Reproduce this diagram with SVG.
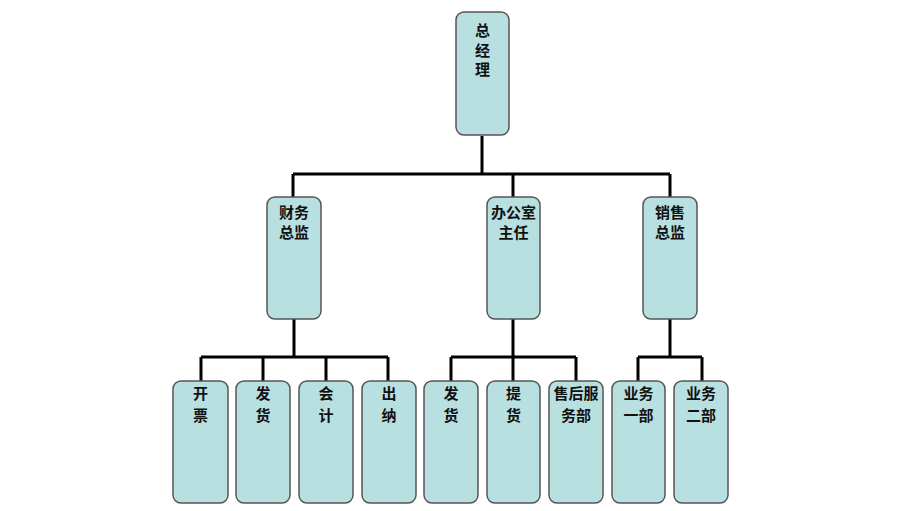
<svg xmlns="http://www.w3.org/2000/svg" width="900" height="511" viewBox="0 0 900 511">
<style>
.box{fill:#b9e0e1;stroke:#555;stroke-width:1.5}
.t{font-family:"Noto Sans CJK SC","Liberation Sans",sans-serif;font-size:15px;font-weight:bold;fill:#111;text-anchor:middle}
.c{fill:none;stroke:#000;stroke-width:3}
</style>
<rect width="900" height="511" fill="#fff"/>
<g id="connectors">
<path class="c" d="M482 136V174M293 174H670M293 174V197M513 174V197M670 174V197"/>
<path class="c" d="M294 319V357M201 357H388M201 357V381M263 357V381M326 357V381M388 357V381"/>
<path class="c" d="M513 319V357M451 357H576M451 357V381M513 357V381M576 357V381"/>
<path class="c" d="M670 319V357M638 357H702M638 357V381M702 357V381"/>
</g>
<g id="n0"><rect class="box" x="456" y="12" width="53" height="123" rx="8"/><text class="t" x="482.5" y="36">总</text><text class="t" x="482.5" y="56">经</text><text class="t" x="482.5" y="75">理</text></g>
<g id="n1"><rect class="box" x="267" y="197" width="54" height="122" rx="8"/><text class="t" x="294" y="218">财务</text><text class="t" x="294" y="238">总监</text></g>
<g id="n2"><rect class="box" x="487" y="197" width="53" height="122" rx="8"/><text class="t" x="513.5" y="218">办公室</text><text class="t" x="513.5" y="238">主任</text></g>
<g id="n3"><rect class="box" x="643" y="197" width="54" height="122" rx="8"/><text class="t" x="670" y="218">销售</text><text class="t" x="670" y="238">总监</text></g>
<g id="n4"><rect class="box" x="173" y="381" width="55" height="122" rx="8"/><text class="t" x="200.5" y="399">开</text><text class="t" x="200.5" y="421">票</text></g>
<g id="n5"><rect class="box" x="236" y="381" width="54" height="122" rx="8"/><text class="t" x="263" y="399">发</text><text class="t" x="263" y="421">货</text></g>
<g id="n6"><rect class="box" x="299" y="381" width="54" height="122" rx="8"/><text class="t" x="326" y="399">会</text><text class="t" x="326" y="421">计</text></g>
<g id="n7"><rect class="box" x="362" y="381" width="54" height="122" rx="8"/><text class="t" x="389" y="399">出</text><text class="t" x="389" y="421">纳</text></g>
<g id="n8"><rect class="box" x="424" y="381" width="54" height="122" rx="8"/><text class="t" x="451" y="399">发</text><text class="t" x="451" y="421">货</text></g>
<g id="n9"><rect class="box" x="487" y="381" width="53" height="122" rx="8"/><text class="t" x="513.5" y="399">提</text><text class="t" x="513.5" y="421">货</text></g>
<g id="n10"><rect class="box" x="549" y="381" width="54" height="122" rx="8"/><text class="t" x="576" y="399">售后服</text><text class="t" x="576" y="421">务部</text></g>
<g id="n11"><rect class="box" x="612" y="381" width="53" height="122" rx="8"/><text class="t" x="638.5" y="399">业务</text><text class="t" x="638.5" y="421">一部</text></g>
<g id="n12"><rect class="box" x="674" y="381" width="54" height="122" rx="8"/><text class="t" x="701" y="399">业务</text><text class="t" x="701" y="421">二部</text></g>
</svg>
